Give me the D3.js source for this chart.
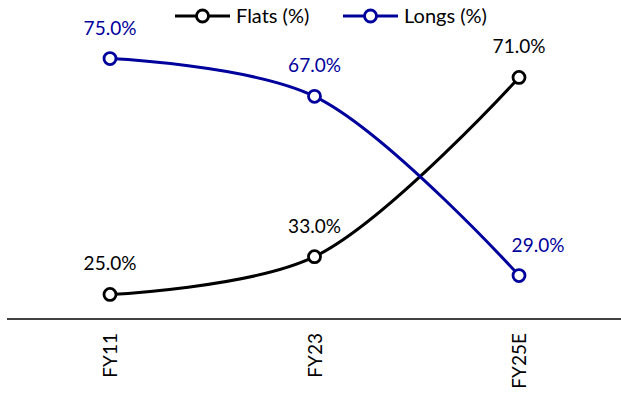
<!DOCTYPE html>
<html>
<head>
<meta charset="utf-8">
<script src="https://cdn.jsdelivr.net/npm/d3@7"></script>
<style>
  html, body { margin: 0; padding: 0; background: #fff; }
  svg { display: block; font-family: Lato, "Open Sans", sans-serif; }
</style>
</head>
<body>
<svg id="chart" width="621" height="394"></svg>
<script>
// Share of flats vs longs by period
const periods = ["FY11", "FY23", "FY25E"];
const flats = [25, 33, 71];
const longs = [75, 67, 29];
const seriesNames = ["Flats (%)", "Longs (%)"];
const seriesColors = ["#000000", "#00009c"];
// horizontal nudge for each label (px), per series
const labelShiftFlats = [0, 0, 0];
const labelShiftLongs = [0, 0, 19];

const svg = d3.select("#chart");

const x = d3.scalePoint().domain(periods).range([110, 519]);
const y = d3.scaleLinear().domain([20, 80]).range([318, 35]);

// baseline axis
svg.append("line")
  .attr("x1", 7).attr("x2", 621)
  .attr("y1", y(20) + 1).attr("y2", y(20) + 1)
  .attr("stroke", "#000").attr("stroke-width", 1.5);

// rotated category labels
const xAxis = svg.append("g").attr("transform", `translate(0,${y(20) + 1})`)
  .call(d3.axisBottom(x).tickSize(0).tickPadding(0));
xAxis.select(".domain").remove();
xAxis.selectAll("text")
  .attr("font-family", "Lato, 'Open Sans', sans-serif")
  .attr("font-size", 19)
  .attr("fill", "#000")
  .attr("transform", "rotate(-90)")
  .attr("text-anchor", "end")
  .attr("x", -14)
  .attr("y", 0)
  .attr("dy", "0.35em");

const series = [
  { name: seriesNames[0], values: flats, color: seriesColors[0], shift: labelShiftFlats },
  { name: seriesNames[1], values: longs, color: seriesColors[1], shift: labelShiftLongs }
];

const line = d3.line()
  .x((d, i) => x(periods[i]))
  .y(d => y(d))
  .curve(d3.curveCatmullRom.alpha(0.5));

series.forEach(s => {
  const g = svg.append("g");
  g.append("path")
    .attr("d", line(s.values))
    .attr("fill", "none")
    .attr("stroke", s.color)
    .attr("stroke-width", 3);
  g.selectAll("circle").data(s.values).join("circle")
    .attr("cx", (d, i) => x(periods[i]))
    .attr("cy", d => y(d))
    .attr("r", 6)
    .attr("fill", "#fff")
    .attr("stroke", s.color)
    .attr("stroke-width", 2.8);
  g.selectAll("text").data(s.values).join("text")
    .attr("x", (d, i) => x(periods[i]) + s.shift[i])
    .attr("y", d => y(d) - 24)
    .attr("text-anchor", "middle")
    .attr("font-size", 19)
    .attr("fill", s.color)
    .text(d => d3.format(".1f")(d) + "%");
});

// legend
const legend = svg.append("g");
const legendX = [175, 343];
series.forEach((s, i) => {
  const lg = legend.append("g").attr("transform", `translate(${legendX[i]},16)`);
  lg.append("line").attr("x1", 0).attr("x2", 55)
    .attr("stroke", s.color).attr("stroke-width", 3);
  lg.append("circle").attr("cx", 27.5).attr("r", 6)
    .attr("fill", "#fff").attr("stroke", s.color).attr("stroke-width", 2.8);
  lg.append("text").attr("x", 61).attr("dy", "0.35em")
    .attr("font-size", 20).attr("fill", "#000")
    .text(s.name);
});
</script>
</body>
</html>
